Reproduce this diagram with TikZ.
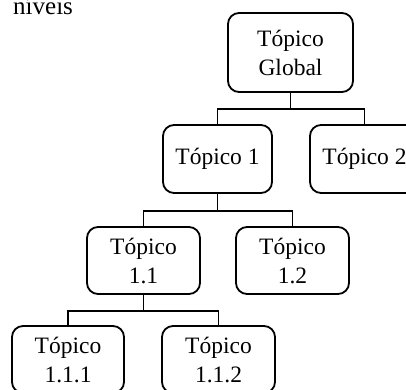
\documentclass[tikz,border=0pt]{standalone}
\usepackage{fontspec}
\setmainfont{Liberation Serif}
\begin{document}
\begin{tikzpicture}[x=1pt,y=-1pt,
  topic/.style={draw=black,line width=1.8pt,rounded corners=11pt,inner sep=0pt,
    align=center,font=\fontsize{23.5}{29}\selectfont},
  conn/.style={draw=black,line width=1.4pt}]
\useasboundingbox (0,0) rectangle (406,389);
\node[anchor=base west,inner sep=0pt,font=\fontsize{25}{29}\selectfont] (lbl) at (13,14) {níveis};
\node[topic,minimum width=125pt,minimum height=79pt] (g) at (290.5,52.5) {Tópico\\Global};
\node[topic,minimum width=109pt,minimum height=68pt] (t1) at (217.5,159) {Tópico 1};
\node[topic,minimum width=109pt,minimum height=68pt] (t2) at (364.5,159) {Tópico 2};
\node[topic,minimum width=113pt,minimum height=67pt] (t11) at (143.5,260.5) {Tópico\\1.1};
\node[topic,minimum width=113pt,minimum height=67pt] (t12) at (292.5,260.5) {Tópico\\1.2};
\node[topic,minimum width=112pt,minimum height=67pt] (t111) at (68,359.5) {Tópico\\1.1.1};
\node[topic,minimum width=113pt,minimum height=67pt] (t112) at (218.5,359.5) {Tópico\\1.1.2};
\draw[conn] (g.south) -- ++(0,16) -| (t1.north);
\draw[conn] (g.south) ++(0,16) -| (t2.north);
\draw[conn] (t1.south) -- ++(0,17) -| (t11.north);
\draw[conn] (t1.south) ++(0,17) -| (t12.north);
\draw[conn] (t11.south) -- ++(0,16) -| (t111.north);
\draw[conn] (t11.south) ++(0,16) -| (t112.north);
\end{tikzpicture}
\end{document}
